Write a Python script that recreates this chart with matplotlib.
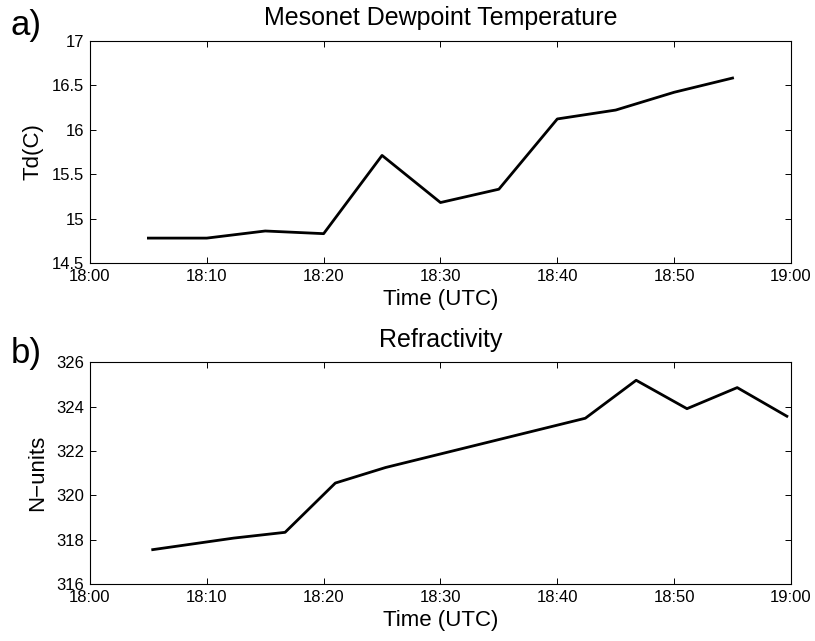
import matplotlib
matplotlib.use("Agg")
import matplotlib.pyplot as plt

plt.rcParams['font.family'] = ['Liberation Sans', 'DejaVu Sans']

# minutes after 18:00 UTC
td_minutes = [5, 10, 15, 20, 25, 30, 35, 40, 45, 50, 55]
td_values = [14.78, 14.78, 14.86, 14.83, 15.71, 15.18, 15.33, 16.12, 16.22, 16.42, 16.58]

refr_minutes = [5.37, 12.3, 16.7, 21.0, 25.3, 42.4, 46.75, 51.1, 55.4, 59.65]
refr_values = [317.56, 318.08, 318.34, 320.56, 321.26, 323.48, 325.19, 323.91, 324.86, 323.57]

x_ticks = [0, 10, 20, 30, 40, 50, 60]
x_tick_labels = ["18:00", "18:10", "18:20", "18:30", "18:40", "18:50", "19:00"]

td_ticks = [14.5, 15, 15.5, 16, 16.5, 17]
td_tick_labels = ["14.5", "15", "15.5", "16", "16.5", "17"]
refr_ticks = [316, 318, 320, 322, 324, 326]


def style_axis(ax):
	# matlab-ish look: ticks inside, on all four sides
	ax.tick_params(direction='in', length=4.3, width=0.7, top=True, right=True,
				   labelsize=12, pad=4)
	for sp in ax.spines.values():
		sp.set_linewidth(0.8)
	ax.set_xlim(0, 60)
	ax.set_xticks(x_ticks)
	ax.set_xticklabels(x_tick_labels)
	ax.set_xlabel('Time (UTC)', fontsize=16, labelpad=4)


fig = plt.figure(figsize=(8.15, 6.41), dpi=100)

ax1 = fig.add_axes([0.1104, 0.5897, 0.8601, 0.3468])
ax1.plot(td_minutes, td_values, 'k-', lw=2)
style_axis(ax1)
ax1.set_ylim(14.5, 17)
ax1.set_yticks(td_ticks)
ax1.set_yticklabels(td_tick_labels)
ax1.set_ylabel('Td(C)', fontsize=16, labelpad=6)
ax1.set_title('Mesonet Dewpoint Temperature', fontsize=18, pad=11)

ax2 = fig.add_axes([0.1104, 0.0885, 0.8601, 0.3463])
ax2.plot(refr_minutes, refr_values, 'k-', lw=2)
style_axis(ax2)
ax2.set_ylim(316, 326)
ax2.set_yticks(refr_ticks)
ax2.set_ylabel('N\u2212units', fontsize=16, labelpad=6)
ax2.set_title('Refractivity', fontsize=18, pad=11)

fig.text(0.013, 0.9454, 'a)', fontsize=25, va='baseline')
fig.text(0.013, 0.4342, 'b)', fontsize=25, va='baseline')

fig.savefig('out.png', dpi=100)
